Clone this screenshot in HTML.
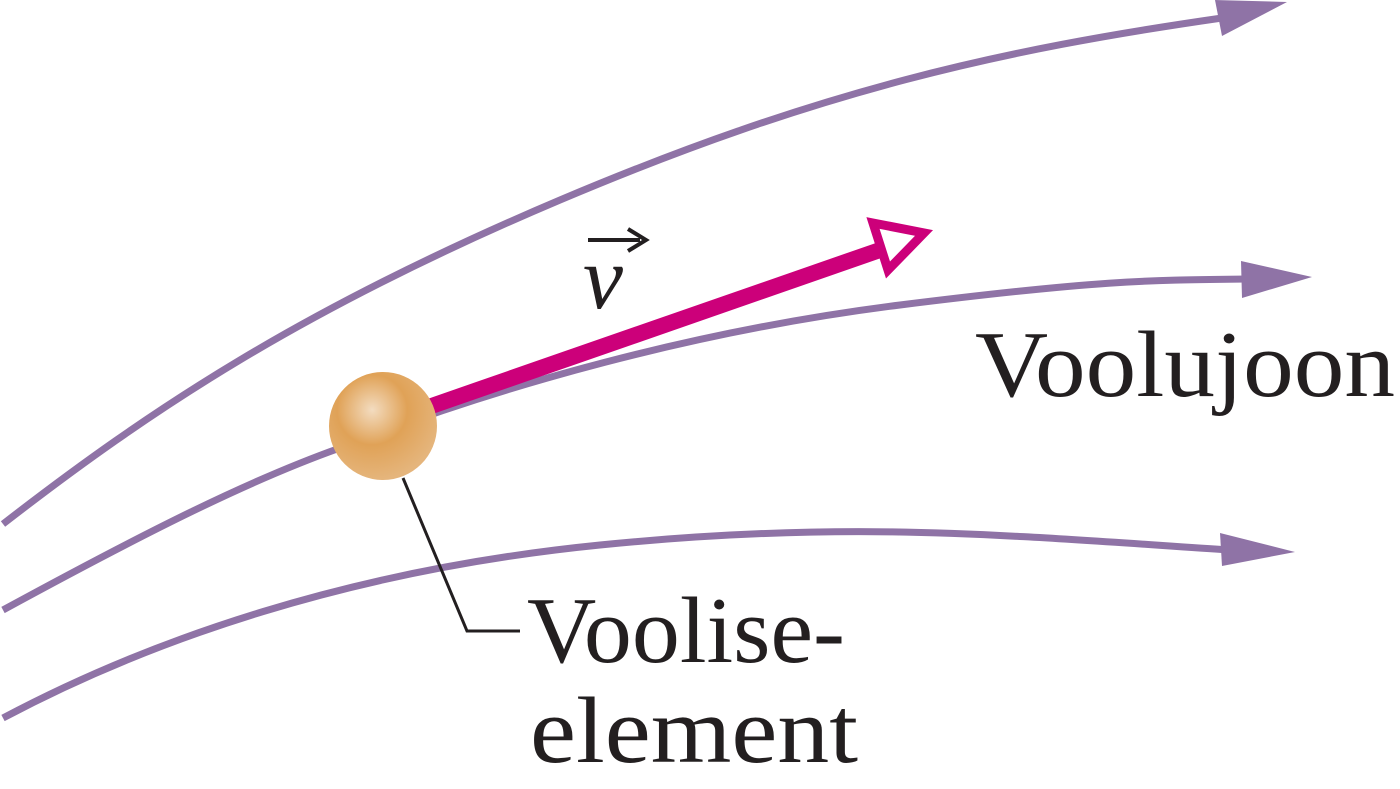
<!DOCTYPE html>
<html><head><meta charset="utf-8"><style>
html,body{margin:0;padding:0;background:#fff;}
svg{display:block;}
text{font-family:"Liberation Serif",serif;fill:#231f20;}
</style></head><body>
<svg width="1400" height="789" viewBox="0 0 1400 789" xmlns="http://www.w3.org/2000/svg">
<defs>
<radialGradient id="g" cx="0.4" cy="0.35" r="0.65">
<stop offset="0" stop-color="#f3dcc0"/>
<stop offset="0.5" stop-color="#e0a257"/>
<stop offset="1" stop-color="#e5b57c"/>
</radialGradient>
</defs>
<g fill="none" stroke="#8f73a6" stroke-width="7">
<path d="M3,524 C150,410 300,310 560,200 S1000,50 1222,18"/>
<path d="M3,610 C150,530 250,480 340,448 C500,385 700,330 900,305 S1150,280 1245,279"/>
<path d="M3,718 C150,640 350,570 600,545 S1000,535 1230,550"/>
</g>
<polygon points="1215,0 1222,36 1287,2" fill="#8f73a6"/>
<polygon points="1241,261 1242,298 1312,277" fill="#8f73a6"/>
<polygon points="1220,533 1222,566 1295,552" fill="#8f73a6"/>
<polyline points="403,478 467,631 520,631" fill="none" stroke="#231f20" stroke-width="3"/>
<line x1="420" y1="410" x2="880" y2="250" stroke="#cc007a" stroke-width="16"/>
<polygon points="873,223 924,233 888,270" fill="#fff" stroke="#cc007a" stroke-width="9"/>
<circle cx="383" cy="426" r="54" fill="url(#g)"/>
<line x1="588" y1="240" x2="640" y2="240" stroke="#231f20" stroke-width="4"/>
<polyline points="628,229 646,240 628,251" fill="none" stroke="#231f20" stroke-width="4"/>
<text x="583" y="308" font-size="90" font-style="italic">v</text>
<text x="975" y="396" font-size="94" textLength="420" lengthAdjust="spacingAndGlyphs">Voolujoon</text>
<text x="527" y="662" font-size="94" textLength="318" lengthAdjust="spacingAndGlyphs">Voolise-</text>
<text x="530" y="762" font-size="94" textLength="328" lengthAdjust="spacingAndGlyphs">element</text>
</svg>
</body></html>
